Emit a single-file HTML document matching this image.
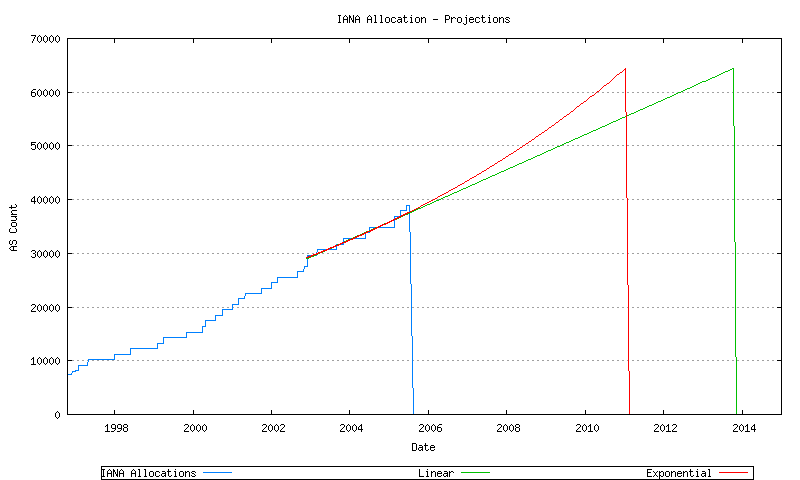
<!DOCTYPE html>
<html><head><meta charset="utf-8"><title>IANA Allocation - Projections</title>
<style>
html,body{margin:0;padding:0;background:#fff;}
body{width:800px;height:480px;overflow:hidden;}
svg{display:block;}
text{font-family:"Liberation Mono",monospace;font-size:12.15px;fill:#000;}
.real text{fill-opacity:0;}
.ln{fill:none;stroke-width:1;shape-rendering:crispEdges;}
</style></head><body>
<svg width="800" height="480" viewBox="0 0 800 480">
<rect width="800" height="480" fill="#fff"/>

<g class="ln" stroke="#a0a0a0" stroke-dasharray="2 3"><line x1="72" y1="360.5" x2="777" y2="360.5"/><line x1="72" y1="307.5" x2="777" y2="307.5"/><line x1="72" y1="253.5" x2="777" y2="253.5"/><line x1="72" y1="199.5" x2="777" y2="199.5"/><line x1="72" y1="145.5" x2="777" y2="145.5"/><line x1="72" y1="92.5" x2="777" y2="92.5"/></g>
<path fill="#0080ff" shape-rendering="crispEdges" d="M67 374h5v1h-5zM71 373h1v1h-1zM72 371h4v1h-4zM72 372h1v1h-1zM75 370h4v1h-4zM78 365h10v1h-10zM78 366h1v4h-1zM87 362h1v3h-1zM88 359h27v1h-27zM88 360h1v2h-1zM114 354h17v1h-17zM114 355h1v4h-1zM130 348h28v1h-28zM130 349h1v5h-1zM157 343h7v1h-7zM157 344h1v4h-1zM163 337h24v1h-24zM163 338h1v5h-1zM186 332h17v1h-17zM186 333h1v4h-1zM202 326h1v6h-1zM203 326h3v1h-3zM205 320h11v1h-11zM205 321h1v5h-1zM215 315h8v1h-8zM215 316h1v4h-1zM222 309h11v1h-11zM222 310h1v5h-1zM232 304h7v1h-7zM232 305h1v4h-1zM238 298h7v1h-7zM238 299h1v5h-1zM244 296h1v2h-1zM245 293h17v1h-17zM245 294h1v2h-1zM261 288h11v1h-11zM261 289h1v4h-1zM271 282h7v1h-7zM271 283h1v5h-1zM277 277h21v1h-21zM277 278h1v4h-1zM297 271h7v1h-7zM297 272h1v5h-1zM303 269h1v2h-1zM304 266h4v1h-4zM304 267h1v2h-1zM307 255h1v11h-1zM308 255h9v1h-9zM316 252h1v3h-1zM317 249h20v1h-20zM317 250h1v2h-1zM336 244h8v1h-8zM336 245h1v4h-1zM343 238h23v1h-23zM343 239h1v5h-1zM365 232h1v6h-1zM366 232h4v1h-4zM369 227h26v1h-26zM369 228h1v4h-1zM394 216h1v11h-1zM395 216h6v1h-6zM400 210h7v1h-7zM400 211h1v5h-1zM406 205h1v5h-1zM407 205h3v1h-3zM409 206h1v26h-1zM410 232h1v52h-1zM411 284h1v52h-1zM412 336h1v52h-1zM413 388h1v27h-1z"/>
<path fill="#00c000" shape-rendering="crispEdges" d="M306 258h3v1h-3zM308 257h3v1h-3zM310 256h4v1h-4zM313 255h3v1h-3zM315 254h3v1h-3zM317 253h3v1h-3zM319 252h4v1h-4zM322 251h3v1h-3zM324 250h3v1h-3zM326 249h3v1h-3zM328 248h4v1h-4zM331 247h3v1h-3zM333 246h3v1h-3zM335 245h3v1h-3zM337 244h3v1h-3zM340 243h3v1h-3zM342 242h3v1h-3zM344 241h3v1h-3zM346 240h3v1h-3zM348 239h4v1h-4zM351 238h3v1h-3zM353 237h3v1h-3zM355 236h3v1h-3zM357 235h4v1h-4zM360 234h3v1h-3zM362 233h3v1h-3zM364 232h3v1h-3zM366 231h4v1h-4zM369 230h3v1h-3zM371 229h3v1h-3zM373 228h3v1h-3zM375 227h4v1h-4zM378 226h3v1h-3zM380 225h3v1h-3zM382 224h3v1h-3zM384 223h4v1h-4zM387 222h3v1h-3zM389 221h3v1h-3zM391 220h3v1h-3zM393 219h4v1h-4zM396 218h3v1h-3zM398 217h3v1h-3zM400 216h3v1h-3zM402 215h3v1h-3zM405 214h3v1h-3zM407 213h3v1h-3zM409 212h3v1h-3zM412 211h2v1h-2zM414 210h2v1h-2zM416 209h2v1h-2zM418 208h3v1h-3zM421 207h2v1h-2zM423 206h2v1h-2zM425 205h2v1h-2zM427 204h3v1h-3zM430 203h2v1h-2zM432 202h2v1h-2zM434 201h2v1h-2zM436 200h3v1h-3zM439 199h2v1h-2zM441 198h2v1h-2zM443 197h2v1h-2zM445 196h3v1h-3zM448 195h2v1h-2zM450 194h2v1h-2zM452 193h2v1h-2zM454 192h3v1h-3zM457 191h2v1h-2zM459 190h2v1h-2zM461 189h2v1h-2zM463 188h3v1h-3zM466 187h2v1h-2zM468 186h2v1h-2zM470 185h2v1h-2zM472 184h3v1h-3zM475 183h2v1h-2zM477 182h2v1h-2zM479 181h2v1h-2zM481 180h2v1h-2zM483 179h3v1h-3zM486 178h2v1h-2zM488 177h2v1h-2zM490 176h2v1h-2zM492 175h3v1h-3zM495 174h2v1h-2zM497 173h2v1h-2zM499 172h2v1h-2zM501 171h3v1h-3zM504 170h2v1h-2zM506 169h2v1h-2zM508 168h2v1h-2zM510 167h3v1h-3zM513 166h2v1h-2zM515 165h2v1h-2zM517 164h2v1h-2zM519 163h3v1h-3zM522 162h2v1h-2zM524 161h2v1h-2zM526 160h2v1h-2zM528 159h3v1h-3zM531 158h2v1h-2zM533 157h2v1h-2zM535 156h2v1h-2zM537 155h3v1h-3zM540 154h2v1h-2zM542 153h2v1h-2zM544 152h2v1h-2zM546 151h2v1h-2zM548 150h3v1h-3zM551 149h2v1h-2zM553 148h2v1h-2zM555 147h2v1h-2zM557 146h3v1h-3zM560 145h2v1h-2zM562 144h2v1h-2zM564 143h2v1h-2zM566 142h3v1h-3zM569 141h2v1h-2zM571 140h2v1h-2zM573 139h2v1h-2zM575 138h3v1h-3zM578 137h2v1h-2zM580 136h2v1h-2zM582 135h2v1h-2zM584 134h3v1h-3zM587 133h2v1h-2zM589 132h2v1h-2zM591 131h2v1h-2zM593 130h3v1h-3zM596 129h2v1h-2zM598 128h2v1h-2zM600 127h2v1h-2zM602 126h3v1h-3zM605 125h2v1h-2zM607 124h2v1h-2zM609 123h2v1h-2zM611 122h2v1h-2zM613 121h3v1h-3zM616 120h2v1h-2zM618 119h2v1h-2zM620 118h2v1h-2zM622 117h3v1h-3zM625 116h2v1h-2zM627 115h2v1h-2zM629 114h2v1h-2zM631 113h3v1h-3zM634 112h2v1h-2zM636 111h2v1h-2zM638 110h2v1h-2zM640 109h3v1h-3zM643 108h2v1h-2zM645 107h2v1h-2zM647 106h2v1h-2zM649 105h3v1h-3zM652 104h2v1h-2zM654 103h2v1h-2zM656 102h2v1h-2zM658 101h3v1h-3zM661 100h2v1h-2zM663 99h2v1h-2zM665 98h2v1h-2zM667 97h3v1h-3zM670 96h2v1h-2zM672 95h2v1h-2zM674 94h2v1h-2zM676 93h2v1h-2zM678 92h3v1h-3zM681 91h2v1h-2zM683 90h2v1h-2zM685 89h2v1h-2zM687 88h3v1h-3zM690 87h2v1h-2zM692 86h2v1h-2zM694 85h2v1h-2zM696 84h2v1h-2zM698 83h2v1h-2zM700 82h2v1h-2zM702 81h4v1h-4zM706 80h2v1h-2zM708 79h2v1h-2zM710 78h2v1h-2zM712 77h3v1h-3zM715 76h2v1h-2zM717 75h2v1h-2zM719 74h2v1h-2zM721 73h2v1h-2zM723 72h2v1h-2zM725 71h3v1h-3zM728 70h2v1h-2zM730 69h2v1h-2zM732 68h2v1h-2zM733 69h1v57h-1zM734 126h1v116h-1zM735 242h1v115h-1zM736 357h1v58h-1z"/>
<path fill="#ff0000" shape-rendering="crispEdges" d="M306 257h3v1h-3zM308 256h4v1h-4zM311 255h3v1h-3zM313 254h4v1h-4zM316 253h3v1h-3zM318 252h4v1h-4zM321 251h3v1h-3zM323 250h4v1h-4zM326 249h3v1h-3zM328 248h3v1h-3zM330 247h4v1h-4zM333 246h3v1h-3zM335 245h4v1h-4zM338 244h3v1h-3zM340 243h3v1h-3zM342 242h4v1h-4zM345 241h3v1h-3zM347 240h3v1h-3zM349 239h4v1h-4zM352 238h3v1h-3zM354 237h3v1h-3zM356 236h3v1h-3zM358 235h4v1h-4zM361 234h3v1h-3zM363 233h3v1h-3zM365 232h3v1h-3zM367 231h4v1h-4zM370 230h3v1h-3zM372 229h3v1h-3zM374 228h3v1h-3zM376 227h3v1h-3zM378 226h3v1h-3zM380 225h3v1h-3zM382 224h4v1h-4zM385 223h3v1h-3zM387 222h3v1h-3zM389 221h3v1h-3zM391 220h3v1h-3zM393 219h3v1h-3zM395 218h3v1h-3zM397 217h3v1h-3zM399 216h3v1h-3zM401 215h3v1h-3zM403 214h3v1h-3zM405 213h3v1h-3zM407 212h3v1h-3zM410 211h2v1h-2zM412 210h2v1h-2zM414 209h2v1h-2zM416 208h2v1h-2zM418 207h2v1h-2zM420 206h1v1h-1zM421 205h2v1h-2zM423 204h2v1h-2zM425 203h2v1h-2zM427 202h2v1h-2zM429 201h2v1h-2zM431 200h2v1h-2zM433 199h2v1h-2zM435 198h2v1h-2zM437 197h1v1h-1zM438 196h2v1h-2zM440 195h2v1h-2zM442 194h2v1h-2zM444 193h2v1h-2zM446 192h2v1h-2zM448 191h1v1h-1zM449 190h2v1h-2zM451 189h2v1h-2zM453 188h2v1h-2zM455 187h2v1h-2zM457 186h1v1h-1zM458 185h2v1h-2zM460 184h2v1h-2zM462 183h2v1h-2zM464 182h1v1h-1zM465 181h2v1h-2zM467 180h2v1h-2zM469 179h1v1h-1zM470 178h2v1h-2zM472 177h2v1h-2zM474 176h2v1h-2zM476 175h1v1h-1zM477 174h2v1h-2zM479 173h2v1h-2zM481 172h1v1h-1zM482 171h2v1h-2zM484 170h2v1h-2zM486 169h1v1h-1zM487 168h2v1h-2zM489 167h1v1h-1zM490 166h2v1h-2zM492 165h2v1h-2zM494 164h1v1h-1zM495 163h2v1h-2zM497 162h1v1h-1zM498 161h2v1h-2zM500 160h2v1h-2zM502 159h1v1h-1zM503 158h2v1h-2zM505 157h1v1h-1zM506 156h2v1h-2zM508 155h1v1h-1zM509 154h2v1h-2zM511 153h2v1h-2zM513 152h1v1h-1zM514 151h2v1h-2zM516 150h1v1h-1zM517 149h2v1h-2zM519 148h1v1h-1zM520 147h2v1h-2zM522 146h1v1h-1zM523 145h2v1h-2zM525 144h1v1h-1zM526 143h2v1h-2zM528 142h1v1h-1zM529 141h2v1h-2zM531 140h1v1h-1zM532 139h2v1h-2zM534 138h1v1h-1zM535 137h1v1h-1zM536 136h2v1h-2zM538 135h1v1h-1zM539 134h2v1h-2zM541 133h1v1h-1zM542 132h2v1h-2zM544 131h1v1h-1zM545 130h2v1h-2zM547 129h1v1h-1zM548 128h1v1h-1zM549 127h2v1h-2zM551 126h1v1h-1zM552 125h2v1h-2zM554 124h1v1h-1zM555 123h1v1h-1zM556 122h2v1h-2zM558 121h1v1h-1zM559 120h1v1h-1zM560 119h2v1h-2zM562 118h1v1h-1zM563 117h1v1h-1zM564 116h2v1h-2zM566 115h1v1h-1zM567 114h2v1h-2zM569 113h1v1h-1zM570 112h1v1h-1zM571 111h2v1h-2zM573 110h1v1h-1zM574 109h1v1h-1zM575 108h1v1h-1zM576 107h1v1h-1zM577 106h2v1h-2zM579 105h1v1h-1zM580 104h1v1h-1zM581 103h2v1h-2zM583 102h1v1h-1zM584 101h2v1h-2zM586 100h1v1h-1zM587 99h1v1h-1zM588 98h1v1h-1zM589 97h1v1h-1zM590 96h2v1h-2zM592 95h2v1h-2zM594 94h1v1h-1zM595 93h1v1h-1zM596 92h1v1h-1zM597 91h2v1h-2zM599 90h1v1h-1zM600 89h1v1h-1zM601 88h1v1h-1zM602 87h1v1h-1zM603 86h1v1h-1zM604 85h2v1h-2zM606 84h1v1h-1zM607 83h2v1h-2zM609 82h1v1h-1zM610 81h1v1h-1zM611 80h1v1h-1zM612 79h1v1h-1zM613 78h1v1h-1zM614 77h1v1h-1zM615 76h1v1h-1zM616 75h1v1h-1zM617 74h2v1h-2zM619 73h1v1h-1zM620 72h2v1h-2zM622 71h1v1h-1zM623 70h1v1h-1zM624 69h2v1h-2zM625 68h1v1h-1zM625 70h1v42h-1zM626 112h1v86h-1zM627 198h1v87h-1zM628 285h1v86h-1zM629 371h1v44h-1z"/>
<g class="ln" stroke="#000"><rect x="67.5" y="38.5" width="714" height="376"/><line x1="114.5" y1="414" x2="114.5" y2="410"/><line x1="114.5" y1="39" x2="114.5" y2="43"/><line x1="193.5" y1="414" x2="193.5" y2="410"/><line x1="193.5" y1="39" x2="193.5" y2="43"/><line x1="271.5" y1="414" x2="271.5" y2="410"/><line x1="271.5" y1="39" x2="271.5" y2="43"/><line x1="349.5" y1="414" x2="349.5" y2="410"/><line x1="349.5" y1="39" x2="349.5" y2="43"/><line x1="428.5" y1="414" x2="428.5" y2="410"/><line x1="428.5" y1="39" x2="428.5" y2="43"/><line x1="506.5" y1="414" x2="506.5" y2="410"/><line x1="506.5" y1="39" x2="506.5" y2="43"/><line x1="585.5" y1="414" x2="585.5" y2="410"/><line x1="585.5" y1="39" x2="585.5" y2="43"/><line x1="663.5" y1="414" x2="663.5" y2="410"/><line x1="663.5" y1="39" x2="663.5" y2="43"/><line x1="742.5" y1="414" x2="742.5" y2="410"/><line x1="742.5" y1="39" x2="742.5" y2="43"/><line x1="68" y1="360.5" x2="72" y2="360.5"/><line x1="781" y1="360.5" x2="777" y2="360.5"/><line x1="68" y1="307.5" x2="72" y2="307.5"/><line x1="781" y1="307.5" x2="777" y2="307.5"/><line x1="68" y1="253.5" x2="72" y2="253.5"/><line x1="781" y1="253.5" x2="777" y2="253.5"/><line x1="68" y1="199.5" x2="72" y2="199.5"/><line x1="781" y1="199.5" x2="777" y2="199.5"/><line x1="68" y1="145.5" x2="72" y2="145.5"/><line x1="781" y1="145.5" x2="777" y2="145.5"/><line x1="68" y1="92.5" x2="72" y2="92.5"/><line x1="781" y1="92.5" x2="777" y2="92.5"/></g>
<g class="ln" stroke="#000"><rect x="101.5" y="466.5" width="652" height="13"/></g>
<defs><path id="g2d" d="M0 4h5v1h-5z"/><path id="g30" d="M0 2h1v4h-1zM1 1h1v1h-1zM1 6h1v1h-1zM2 0h1v1h-1zM2 7h1v1h-1zM3 1h1v1h-1zM3 6h1v1h-1zM4 2h1v4h-1z"/><path id="g31" d="M0 2h1v1h-1zM0 7h5v1h-5zM1 1h2v1h-2zM2 0h1v1h-1zM2 2h1v5h-1z"/><path id="g32" d="M0 1h1v1h-1zM0 6h1v2h-1zM1 0h3v1h-3zM1 5h1v1h-1zM1 7h4v1h-4zM2 4h1v1h-1zM3 3h1v1h-1zM4 1h1v2h-1z"/><path id="g33" d="M0 1h1v1h-1zM0 6h1v1h-1zM1 0h3v1h-3zM1 7h3v1h-3zM2 3h2v1h-2zM4 1h1v2h-1zM4 4h1v3h-1z"/><path id="g34" d="M0 3h1v3h-1zM1 2h1v1h-1zM1 5h4v1h-4zM2 1h2v1h-2zM3 0h1v1h-1zM3 2h1v3h-1zM3 6h1v2h-1z"/><path id="g35" d="M0 0h5v1h-5zM0 1h1v3h-1zM0 6h1v1h-1zM1 2h3v1h-3zM1 7h3v1h-3zM4 3h1v4h-1z"/><path id="g36" d="M0 2h1v5h-1zM1 1h1v1h-1zM1 3h3v1h-3zM1 7h3v1h-3zM2 0h3v1h-3zM4 4h1v3h-1z"/><path id="g37" d="M0 0h5v1h-5zM1 6h1v2h-1zM2 4h1v2h-1zM3 2h1v2h-1zM4 1h1v1h-1z"/><path id="g38" d="M0 1h1v2h-1zM0 4h1v3h-1zM1 0h3v1h-3zM1 3h3v1h-3zM1 7h3v1h-3zM4 1h1v2h-1zM4 4h1v3h-1z"/><path id="g39" d="M0 1h1v3h-1zM0 7h3v1h-3zM1 0h3v1h-3zM1 4h4v1h-4zM3 6h1v1h-1zM4 1h1v3h-1zM4 5h1v1h-1z"/><path id="g41" d="M0 2h1v6h-1zM1 1h1v1h-1zM1 4h4v1h-4zM2 0h1v1h-1zM3 1h1v1h-1zM4 2h1v2h-1zM4 5h1v3h-1z"/><path id="g43" d="M0 1h1v6h-1zM1 0h3v1h-3zM1 7h3v1h-3zM4 1h1v1h-1zM4 6h1v1h-1z"/><path id="g44" d="M0 0h1v8h-1zM1 0h3v1h-3zM1 7h3v1h-3zM4 1h1v6h-1z"/><path id="g45" d="M0 0h1v8h-1zM1 0h4v1h-4zM1 3h3v1h-3zM1 7h4v1h-4z"/><path id="g49" d="M1 0h3v1h-3zM1 7h3v1h-3zM2 1h1v6h-1z"/><path id="g4c" d="M0 0h1v8h-1zM1 7h4v1h-4z"/><path id="g4e" d="M0 0h1v8h-1zM1 1h1v2h-1zM2 3h1v2h-1zM3 5h2v1h-2zM3 6h2v1h-2zM4 0h1v5h-1zM4 7h1v1h-1z"/><path id="g50" d="M0 0h1v8h-1zM1 0h3v1h-3zM1 4h3v1h-3zM4 1h1v3h-1z"/><path id="g53" d="M0 1h1v2h-1zM0 6h1v1h-1zM1 0h3v1h-3zM1 3h3v1h-3zM1 7h3v1h-3zM4 1h1v1h-1zM4 4h1v3h-1z"/><path id="g61" d="M0 5h1v2h-1zM1 2h3v1h-3zM1 4h4v1h-4zM1 7h2v1h-2zM3 6h2v1h-2zM4 3h1v1h-1zM4 5h1v1h-1zM4 7h1v1h-1z"/><path id="g63" d="M0 3h1v4h-1zM1 2h3v1h-3zM1 7h3v1h-3zM4 3h1v1h-1zM4 6h1v1h-1z"/><path id="g65" d="M0 3h1v4h-1zM1 2h3v1h-3zM1 4h4v1h-4zM1 7h3v1h-3zM4 3h1v1h-1zM4 6h1v1h-1z"/><path id="g69" d="M1 2h2v1h-2zM1 7h3v1h-3zM2 0h1v1h-1zM2 3h1v4h-1z"/><path id="g6a" d="M0 8h1v1h-1zM1 9h2v1h-2zM2 2h2v1h-2zM3 0h1v1h-1zM3 3h1v6h-1z"/><path id="g6c" d="M1 0h2v1h-2zM1 7h3v1h-3zM2 1h1v6h-1z"/><path id="g6e" d="M0 2h1v6h-1zM1 3h1v1h-1zM2 2h2v1h-2zM4 3h1v5h-1z"/><path id="g6f" d="M0 3h1v4h-1zM1 2h3v1h-3zM1 7h3v1h-3zM4 3h1v4h-1z"/><path id="g70" d="M0 2h1v8h-1zM1 3h1v1h-1zM1 6h1v1h-1zM2 2h2v1h-2zM2 7h2v1h-2zM4 3h1v4h-1z"/><path id="g72" d="M0 2h1v6h-1zM1 3h1v1h-1zM2 2h2v1h-2zM4 3h1v1h-1z"/><path id="g73" d="M0 3h1v1h-1zM0 6h1v1h-1zM1 2h3v1h-3zM1 4h2v1h-2zM1 7h3v1h-3zM3 5h1v1h-1zM4 3h1v1h-1zM4 6h1v1h-1z"/><path id="g74" d="M0 2h4v1h-4zM1 0h1v2h-1zM1 3h1v4h-1zM2 7h2v1h-2zM4 6h1v1h-1z"/><path id="g75" d="M0 2h1v5h-1zM1 7h2v1h-2zM3 6h2v1h-2zM4 2h1v4h-1zM4 7h1v1h-1z"/><path id="g78" d="M0 2h1v1h-1zM0 7h1v1h-1zM1 3h1v1h-1zM1 6h1v1h-1zM2 4h1v2h-1zM3 3h1v1h-1zM3 6h1v1h-1zM4 2h1v1h-1zM4 7h1v1h-1z"/></defs>
<g fill="#000" shape-rendering="crispEdges"><use href="#g49" x="337" y="15"/><use href="#g41" x="343" y="15"/><use href="#g4e" x="349" y="15"/><use href="#g41" x="355" y="15"/><use href="#g41" x="367" y="15"/><use href="#g6c" x="373" y="15"/><use href="#g6c" x="379" y="15"/><use href="#g6f" x="385" y="15"/><use href="#g63" x="391" y="15"/><use href="#g61" x="397" y="15"/><use href="#g74" x="403" y="15"/><use href="#g69" x="409" y="15"/><use href="#g6f" x="415" y="15"/><use href="#g6e" x="421" y="15"/><use href="#g2d" x="433" y="15"/><use href="#g50" x="445" y="15"/><use href="#g72" x="451" y="15"/><use href="#g6f" x="457" y="15"/><use href="#g6a" x="463" y="15"/><use href="#g65" x="469" y="15"/><use href="#g63" x="475" y="15"/><use href="#g74" x="481" y="15"/><use href="#g69" x="487" y="15"/><use href="#g6f" x="493" y="15"/><use href="#g6e" x="499" y="15"/><use href="#g73" x="505" y="15"/><use href="#g30" x="55" y="411"/><use href="#g31" x="31" y="357"/><use href="#g30" x="37" y="357"/><use href="#g30" x="43" y="357"/><use href="#g30" x="49" y="357"/><use href="#g30" x="55" y="357"/><use href="#g32" x="31" y="304"/><use href="#g30" x="37" y="304"/><use href="#g30" x="43" y="304"/><use href="#g30" x="49" y="304"/><use href="#g30" x="55" y="304"/><use href="#g33" x="31" y="250"/><use href="#g30" x="37" y="250"/><use href="#g30" x="43" y="250"/><use href="#g30" x="49" y="250"/><use href="#g30" x="55" y="250"/><use href="#g34" x="31" y="196"/><use href="#g30" x="37" y="196"/><use href="#g30" x="43" y="196"/><use href="#g30" x="49" y="196"/><use href="#g30" x="55" y="196"/><use href="#g35" x="31" y="142"/><use href="#g30" x="37" y="142"/><use href="#g30" x="43" y="142"/><use href="#g30" x="49" y="142"/><use href="#g30" x="55" y="142"/><use href="#g36" x="31" y="89"/><use href="#g30" x="37" y="89"/><use href="#g30" x="43" y="89"/><use href="#g30" x="49" y="89"/><use href="#g30" x="55" y="89"/><use href="#g37" x="31" y="35"/><use href="#g30" x="37" y="35"/><use href="#g30" x="43" y="35"/><use href="#g30" x="49" y="35"/><use href="#g30" x="55" y="35"/><use href="#g31" x="105" y="424"/><use href="#g39" x="111" y="424"/><use href="#g39" x="117" y="424"/><use href="#g38" x="123" y="424"/><use href="#g32" x="184" y="424"/><use href="#g30" x="190" y="424"/><use href="#g30" x="196" y="424"/><use href="#g30" x="202" y="424"/><use href="#g32" x="262" y="424"/><use href="#g30" x="268" y="424"/><use href="#g30" x="274" y="424"/><use href="#g32" x="280" y="424"/><use href="#g32" x="340" y="424"/><use href="#g30" x="346" y="424"/><use href="#g30" x="352" y="424"/><use href="#g34" x="358" y="424"/><use href="#g32" x="419" y="424"/><use href="#g30" x="425" y="424"/><use href="#g30" x="431" y="424"/><use href="#g36" x="437" y="424"/><use href="#g32" x="497" y="424"/><use href="#g30" x="503" y="424"/><use href="#g30" x="509" y="424"/><use href="#g38" x="515" y="424"/><use href="#g32" x="576" y="424"/><use href="#g30" x="582" y="424"/><use href="#g31" x="588" y="424"/><use href="#g30" x="594" y="424"/><use href="#g32" x="654" y="424"/><use href="#g30" x="660" y="424"/><use href="#g31" x="666" y="424"/><use href="#g32" x="672" y="424"/><use href="#g32" x="733" y="424"/><use href="#g30" x="739" y="424"/><use href="#g31" x="745" y="424"/><use href="#g34" x="751" y="424"/><use href="#g44" x="412" y="443"/><use href="#g61" x="418" y="443"/><use href="#g74" x="424" y="443"/><use href="#g65" x="430" y="443"/><use href="#g41" transform="translate(9,251) rotate(-90)"/><use href="#g53" transform="translate(9,245) rotate(-90)"/><use href="#g43" transform="translate(9,233) rotate(-90)"/><use href="#g6f" transform="translate(9,227) rotate(-90)"/><use href="#g75" transform="translate(9,221) rotate(-90)"/><use href="#g6e" transform="translate(9,215) rotate(-90)"/><use href="#g74" transform="translate(9,209) rotate(-90)"/><use href="#g49" x="101" y="469"/><use href="#g41" x="107" y="469"/><use href="#g4e" x="113" y="469"/><use href="#g41" x="119" y="469"/><use href="#g41" x="131" y="469"/><use href="#g6c" x="137" y="469"/><use href="#g6c" x="143" y="469"/><use href="#g6f" x="149" y="469"/><use href="#g63" x="155" y="469"/><use href="#g61" x="161" y="469"/><use href="#g74" x="167" y="469"/><use href="#g69" x="173" y="469"/><use href="#g6f" x="179" y="469"/><use href="#g6e" x="185" y="469"/><use href="#g73" x="191" y="469"/><use href="#g4c" x="419" y="469"/><use href="#g69" x="425" y="469"/><use href="#g6e" x="431" y="469"/><use href="#g65" x="437" y="469"/><use href="#g61" x="443" y="469"/><use href="#g72" x="449" y="469"/><use href="#g45" x="647" y="469"/><use href="#g78" x="653" y="469"/><use href="#g70" x="659" y="469"/><use href="#g6f" x="665" y="469"/><use href="#g6e" x="671" y="469"/><use href="#g65" x="677" y="469"/><use href="#g6e" x="683" y="469"/><use href="#g74" x="689" y="469"/><use href="#g69" x="695" y="469"/><use href="#g61" x="701" y="469"/><use href="#g6c" x="707" y="469"/></g>
<g class="real"><text x="337" y="23" textLength="174" lengthAdjust="spacingAndGlyphs">IANA Allocation - Projections</text><text x="55" y="419" textLength="6" lengthAdjust="spacingAndGlyphs">0</text><text x="31" y="365" textLength="30" lengthAdjust="spacingAndGlyphs">10000</text><text x="31" y="312" textLength="30" lengthAdjust="spacingAndGlyphs">20000</text><text x="31" y="258" textLength="30" lengthAdjust="spacingAndGlyphs">30000</text><text x="31" y="204" textLength="30" lengthAdjust="spacingAndGlyphs">40000</text><text x="31" y="150" textLength="30" lengthAdjust="spacingAndGlyphs">50000</text><text x="31" y="97" textLength="30" lengthAdjust="spacingAndGlyphs">60000</text><text x="31" y="43" textLength="30" lengthAdjust="spacingAndGlyphs">70000</text><text x="105" y="432" textLength="24" lengthAdjust="spacingAndGlyphs">1998</text><text x="184" y="432" textLength="24" lengthAdjust="spacingAndGlyphs">2000</text><text x="262" y="432" textLength="24" lengthAdjust="spacingAndGlyphs">2002</text><text x="340" y="432" textLength="24" lengthAdjust="spacingAndGlyphs">2004</text><text x="419" y="432" textLength="24" lengthAdjust="spacingAndGlyphs">2006</text><text x="497" y="432" textLength="24" lengthAdjust="spacingAndGlyphs">2008</text><text x="576" y="432" textLength="24" lengthAdjust="spacingAndGlyphs">2010</text><text x="654" y="432" textLength="24" lengthAdjust="spacingAndGlyphs">2012</text><text x="733" y="432" textLength="24" lengthAdjust="spacingAndGlyphs">2014</text><text x="412" y="451" textLength="24" lengthAdjust="spacingAndGlyphs">Date</text><text transform="translate(17,251) rotate(-90)" textLength="48" lengthAdjust="spacingAndGlyphs">AS Count</text><text x="101" y="477" textLength="96" lengthAdjust="spacingAndGlyphs">IANA Allocations</text><text x="419" y="477" textLength="36" lengthAdjust="spacingAndGlyphs">Linear</text><text x="647" y="477" textLength="66" lengthAdjust="spacingAndGlyphs">Exponential</text></g>
<g class="ln"><line x1="203" y1="472.5" x2="232" y2="472.5" stroke="#0080ff"/><line x1="461" y1="472.5" x2="490" y2="472.5" stroke="#00c000"/><line x1="719" y1="472.5" x2="748" y2="472.5" stroke="#ff0000"/></g>
</svg></body></html>
